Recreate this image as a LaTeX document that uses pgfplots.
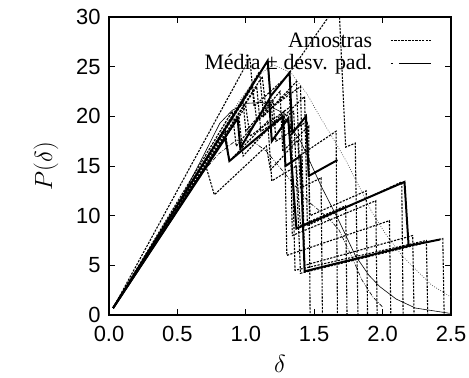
\documentclass[border=0pt]{standalone}
\usepackage{fontspec}
\setmainfont{Liberation Serif}
\newfontfamily\tickfont{Liberation Sans}
\usepackage{pgfplots}
\pgfplotsset{compat=1.18}
\tikzset{
  samp/.style={black, line width=1.1pt, dash pattern=on 2.2pt off 1.3pt},
  thk/.style={black, line width=2pt},
  meanl/.style={black, line width=0.6pt},
  supl/.style={black!75, line width=0.6pt, dash pattern=on 0.8pt off 1.6pt},
  infl/.style={black, line width=0.6pt, dash pattern=on 4pt off 1.5pt on 0.8pt off 1.5pt},
}
\begin{document}
\begin{tikzpicture}
\begin{axis}[
  scale only axis, width=342bp, height=298bp,
  xmin=0, xmax=2.5, ymin=0, ymax=30,
  xtick={0,0.5,1,1.5,2,2.5},
  xticklabels={0.0,0.5,1.0,1.5,2.0,2.5},
  ytick={0,5,10,15,20,25,30},
  /pgf/number format/assume math mode=true,
  tick label style={font=\tickfont\fontsize{22}{24}\selectfont},
  xticklabel style={yshift=-8bp},
  yticklabel style={xshift=-5bp},
  tick align=inside, major tick length=6bp,
  tick style={black, line width=0.8pt},
  axis line style={line width=1.3pt},
  label style={font=\fontsize{23}{26}\selectfont},
  xlabel={$\delta$}, ylabel={$P(\delta)$},
  xlabel style={yshift=-6bp},
  ylabel style={yshift=11bp},
  legend style={at={(0.944,0.955)}, anchor=north east, draw=none, fill=none,
    font=\fontsize{22}{24}\selectfont, inner sep=0pt, row sep=2bp},
  legend cell align=right,
  legend plot pos=right,
  legend image code/.code={\path (0bp,0bp); \draw[#1] (16bp,0bp) -- (56bp,0bp);},
  clip=true,
]
\addlegendimage{samp, line width=1.5pt}
\addlegendimage{black, line width=0.8pt, dash pattern=on 2pt off 6pt on 40pt off 0pt}
\legend{Amostras, Média ± desv. pad.}

% Amostras (samples)
\addplot[samp] coordinates {(0.03,0.7)(0.49,10.8)(0.71,14.9)(0.77,12.1)(1.15,17.0)(1.18,14.6)(1.38,17.6)(1.40,12.8)(1.55,13.8)(1.56,0)};
\addplot[samp] coordinates {(0.03,0.7)(1.03,25.9)(1.06,21.0)(1.30,24.0)(1.68,31.5)(1.73,16.9)(1.80,17.3)(1.82,0)};
\addplot[samp] coordinates {(0.03,0.7)(0.98,21.5)(1.00,18.5)(1.25,22.5)(1.27,16.5)(1.46,19.0)(1.47,0)};
\addplot[samp] coordinates {(0.03,0.7)(1.10,24.5)(1.13,20.0)(1.37,23.5)(1.39,16.0)(1.66,18.5)(1.67,0)};
\addplot[samp] coordinates {(0.03,0.7)(0.90,20.5)(0.93,17.0)(1.20,21.5)(1.22,17.5)(1.45,19.5)(1.47,10.0)(1.88,12.5)(1.89,0)};
\addplot[samp] coordinates {(0.03,0.7)(1.05,23.0)(1.08,19.5)(1.32,22.5)(1.34,8.0)(1.95,11.5)(1.96,0)};
\addplot[samp] coordinates {(0.03,0.7)(0.95,20.0)(0.98,16.0)(1.28,20.5)(1.30,6.0)(2.05,9.5)(2.06,0)};
\addplot[samp] coordinates {(0.03,0.7)(1.12,24.0)(1.15,20.5)(1.40,23.0)(1.43,5.0)(2.22,8.0)(2.23,0)};
\addplot[samp] coordinates {(0.03,0.7)(1.00,21.0)(1.03,18.0)(1.33,21.0)(1.36,4.5)(2.32,7.5)(2.33,0)};
\addplot[samp] coordinates {(0.03,0.7)(1.08,23.0)(1.11,18.5)(1.35,20.5)(1.40,4.2)(2.44,7.7)(2.45,0)};
\addplot[samp] coordinates {(0.03,0.7)(0.85,18.5)(0.88,15.5)(1.16,19.5)(1.19,13.5)(1.37,15.0)(1.40,9.0)(1.73,11.0)(1.74,0)};
\addplot[samp] coordinates {(0.03,0.7)(1.16,25.6)(1.20,19.0)(1.43,22.0)(1.45,9.0)(2.14,13.4)(2.15,0)};

% smooth curves
\addplot[supl] coordinates {(0.03,0.7)(0.5,11.2)(0.75,17.0)(0.95,21.5)(1.10,24.2)(1.20,25.2)(1.33,24.4)(1.45,22.2)(1.54,20.0)(1.65,17.5)(1.73,15.6)(1.83,12.9)(1.92,10.4)(2.02,8.2)(2.14,6.0)(2.24,4.6)(2.36,3.0)(2.50,1.8)};
\addplot[meanl] coordinates {(0.03,0.7)(0.50,11.0)(0.70,16.3)(0.81,19.3)(0.90,20.6)(1.00,21.3)(1.12,21.4)(1.25,20.5)(1.40,17.5)(1.55,13.0)(1.68,9.5)(1.80,6.0)(1.90,4.0)(1.98,2.85)(2.10,1.6)(2.24,0.7)(2.49,0.17)};
\addplot[infl] coordinates {(0.03,0.7)(0.50,10.8)(0.70,14.6)(0.80,16.2)(0.93,17.6)(1.05,17.5)(1.15,16.5)(1.30,14.0)(1.45,11.5)(1.60,9.8)(1.68,8.6)(1.77,6.0)(1.85,3.5)(1.93,1.8)(2.00,0.8)};

% thick zig-zags
\addplot[thk] coordinates {(0.03,0.7)(1.16,25.6)(1.18,22.0)(1.32,24.4)(1.34,18.3)(1.44,20.0)(1.46,14.0)(1.67,15.6)};
\addplot[thk] coordinates {(0.03,0.7)(0.94,19.8)(0.96,16.8)(1.17,21.7)(1.19,17.5)(1.31,19.8)(1.37,8.7)(2.16,13.4)(2.19,7.0)};
\addplot[thk] coordinates {(0.03,0.7)(0.85,17.8)(0.88,15.5)(1.27,20.0)(1.29,15.0)(1.40,16.0)(1.43,4.4)(2.20,7.0)(2.42,7.6)};

\coordinate (ll) at (rel axis cs:0,0);
\coordinate (ur) at (rel axis cs:1,1);
\end{axis}
\pgfresetboundingbox
\path ([shift={(-109bp,-63bp)}]ll) rectangle ([shift={(18bp,17bp)}]ur);
\end{tikzpicture}
\end{document}
